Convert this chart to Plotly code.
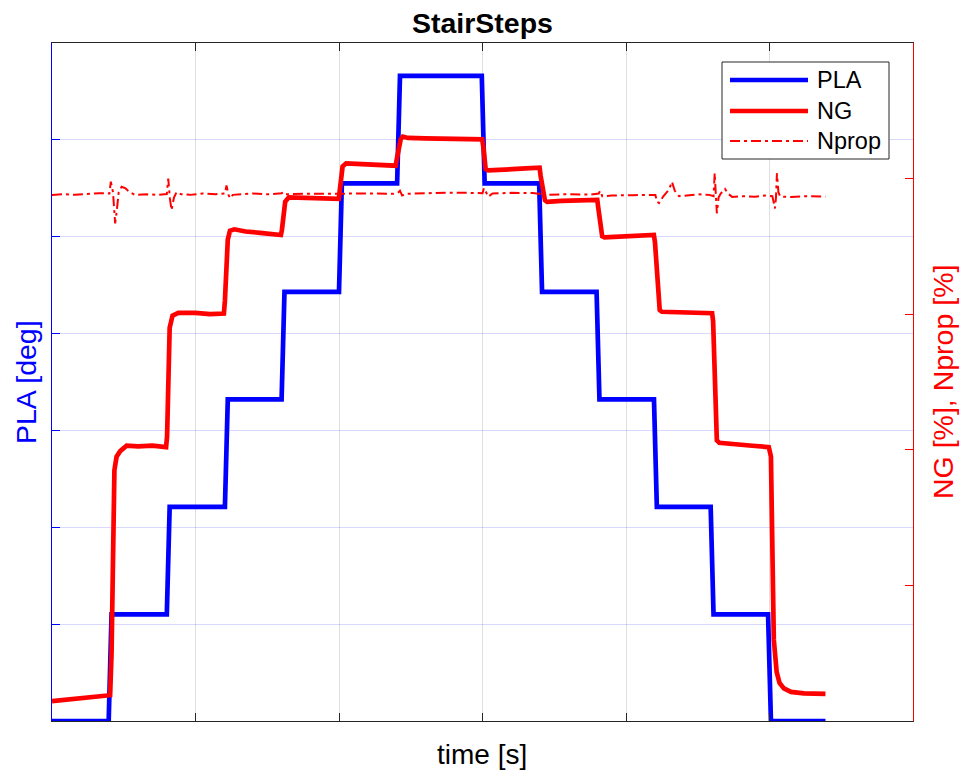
import plotly.graph_objects as go

# ---- data -------------------------------------------------------------
# Power lever angle command [deg]: step corners (time [s], value)
pla_t = [0, 39.5, 41.5, 80, 82, 120.5, 122.5, 160, 162, 200, 202, 240.5, 242.5,
         299.5, 301.5, 339.5, 341.5, 379.5, 381.5, 419.5, 421.5, 459, 461, 499, 501, 539]
pla_v = [0, 0, 1.1, 1.1, 2.21, 2.21, 3.32, 3.32, 4.43, 4.43, 5.55, 5.55, 6.66,
         6.66, 5.55, 5.55, 4.43, 4.43, 3.32, 3.32, 2.21, 2.21, 1.1, 1.1, 0, 0]

# Gas generator speed NG (right axis)
ng_t = [0, 20, 39.8, 40.5, 41.5, 43.5, 45, 47.5, 52, 60, 70, 79.5,
        80.2, 82, 84, 88, 100, 110, 119.8,
        120.5, 122.5, 124, 127, 135, 145, 159.5,
        160.2, 162.5, 165, 175, 190, 199.8,
        200.4, 202.5, 205, 215, 228, 239.5,
        240.2, 243, 244.5, 248, 260, 280, 299.8,
        300.5, 302.2, 304, 315, 330, 339.8,
        340.5, 343.5, 345, 355, 370, 380,
        380.6, 383.4, 385, 400, 419.4,
        420.2, 423.5, 425, 440, 460,
        460.7, 463.3, 465, 475, 488, 499.5,
        501, 503, 505, 507, 510, 515, 524, 539]
ng_v = [0.147, 0.165, 0.184, 0.19, 0.5, 1.85, 1.95, 1.99, 2.03, 2.025, 2.03, 2.02,
        2.1, 2.9, 2.99, 3.01, 3.01, 3.0, 3.005,
        3.1, 3.55, 3.615, 3.626, 3.61, 3.6, 3.584,
        3.62, 3.83, 3.862, 3.86, 3.855, 3.85,
        3.9, 4.09, 4.113, 4.108, 4.1, 4.095,
        4.14, 4.29, 4.31, 4.3, 4.297, 4.295, 4.29,
        4.24, 4.07, 4.06, 4.07, 4.075, 4.08,
        4.02, 3.84, 3.828, 3.835, 3.84, 3.842,
        3.79, 3.575, 3.567, 3.575, 3.584,
        3.53, 3.03, 3.018, 3.012, 3.007,
        2.95, 2.07, 2.052, 2.04, 2.03, 2.02,
        1.95, 0.6, 0.36, 0.28, 0.24, 0.215, 0.204, 0.2]

# Propeller speed Nprop (right axis)
nprop_t = [0, 8, 16, 25, 33, 40,
           41, 42.5, 44, 45, 46.5, 48.5, 51, 54, 58, 66, 74, 80,
           81, 82.2, 83.3, 85, 86.8, 90, 96, 105, 114, 120.5,
           121.6, 123, 124, 126, 131, 140, 150, 160, 161.5, 163, 175, 190, 200, 210, 225, 238,
           241.5, 242.5, 244, 247, 260, 275, 290, 300,
           301, 302.5, 304, 307, 320, 335, 341, 342.5, 344, 360, 375, 381, 382, 383.5,
           390, 405, 415, 420.5,
           421.5, 423, 426, 430, 432, 434, 437, 442, 450, 458, 461,
           461.8, 462.6, 463.3, 464.5, 466, 469, 471, 474, 480, 490, 497, 502,
           503.8, 504.5, 505.2, 506.2, 507.5, 515, 525, 539]
nprop_v = [3.879, 3.885, 3.88, 3.888, 3.892, 3.89,
           3.977, 3.9, 3.67, 3.75, 3.9, 3.94, 3.93, 3.9, 3.879, 3.884, 3.88, 3.886,
           4.0, 3.85, 3.768, 3.86, 3.9, 3.885, 3.88, 3.89, 3.885, 3.89,
           3.95, 3.88, 3.855, 3.88, 3.885, 3.89, 3.884, 3.892, 3.9, 3.884, 3.888, 3.89, 3.887, 3.892, 3.89, 3.888,
           3.9, 3.91, 3.875, 3.888, 3.893, 3.896, 3.895, 3.892,
           3.93, 3.9, 3.867, 3.89, 3.895, 3.893, 3.885, 3.9, 3.88, 3.885, 3.882, 3.89, 3.91, 3.87,
           3.875, 3.878, 3.876, 3.879,
           3.83, 3.82, 3.87, 3.92, 3.977, 3.91, 3.87, 3.875, 3.884, 3.88, 3.87,
           4.04, 3.9, 3.744, 3.86, 3.89, 3.924, 3.89, 3.865, 3.87, 3.867, 3.875, 3.87,
           3.78, 3.86, 4.04, 3.9, 3.867, 3.865, 3.87, 3.867]

series_names = ["PLA", "NG", "Nprop"]

# ---- styling ----------------------------------------------------------
W, H = 966, 772
ML, MR, MT, MB = 52, 53, 43, 51
FONT = "Liberation Sans, Arial, Helvetica, sans-serif"
BLUE, RED, DARK = "#0000FF", "#FF0000", "#262626"
DASHDOT = "10px,4px,3px,4px"


def px_x(p):
    return (p - ML) / (W - ML - MR)


def px_y(p):
    return (H - MB - p) / (H - MT - MB)


fig = go.Figure()
fig.add_trace(go.Scatter(x=pla_t, y=pla_v, mode="lines", name=series_names[0],
                         line=dict(color=BLUE, width=4.7), yaxis="y", showlegend=False))
fig.add_trace(go.Scatter(x=ng_t, y=ng_v, mode="lines", name=series_names[1],
                         line=dict(color=RED, width=4.7), yaxis="y2", showlegend=False))
fig.add_trace(go.Scatter(x=nprop_t, y=nprop_v, mode="lines", name=series_names[2],
                         line=dict(color=RED, width=2, dash=DASHDOT), yaxis="y2",
                         showlegend=False))

fig.update_layout(
    width=W, height=H,
    margin=dict(l=ML, r=MR, t=MT, b=MB),
    paper_bgcolor="white", plot_bgcolor="white",
    font=dict(family=FONT, color="black"),
    title=dict(text="<b>StairSteps</b>", x=0.5, xref="paper", xanchor="center",
               y=1 - 23 / H, yref="container", yanchor="middle",
               font=dict(size=28.5, color="black", family=FONT)),
    xaxis=dict(range=[0, 600], tick0=0, dtick=100, showticklabels=False,
               ticks="inside", ticklen=8, tickcolor=DARK, tickwidth=1,
               showline=True, linecolor=DARK, linewidth=1, mirror="ticks",
               showgrid=True, gridcolor="rgba(38,38,38,0.15)", gridwidth=1,
               zeroline=False),
    yaxis=dict(range=[0, 7], tick0=0, dtick=1, showticklabels=False,
               ticks="inside", ticklen=8, tickcolor=BLUE, tickwidth=1,
               showline=True, linecolor=BLUE, linewidth=1,
               showgrid=True, gridcolor="rgba(0,0,255,0.15)", gridwidth=1,
               zeroline=False),
    yaxis2=dict(range=[0, 5], tick0=0, dtick=1, showticklabels=False,
                overlaying="y", side="right",
                ticks="inside", ticklen=8, tickcolor=RED, tickwidth=1,
                showline=True, linecolor=RED, linewidth=1,
                showgrid=False, zeroline=False),
    showlegend=False,
)

# axis labels
annotations = [
    dict(text="time [s]", x=px_x(481.5), y=px_y(754), xref="paper", yref="paper",
         xanchor="center", yanchor="middle", showarrow=False,
         font=dict(size=28, color="black", family=FONT)),
    dict(text="PLA [deg]", x=px_x(26), y=0.5, xref="paper", yref="paper",
         xanchor="center", yanchor="middle", textangle=-90, showarrow=False,
         font=dict(size=28.5, color=BLUE, family=FONT)),
    dict(text="NG [%], Nprop [%]", x=px_x(943), y=0.5, xref="paper", yref="paper",
         xanchor="center", yanchor="middle", textangle=-90, showarrow=False,
         font=dict(size=28.5, color=RED, family=FONT)),
]

# legend box drawn in figure space
shapes = [dict(type="rect", xref="paper", yref="paper",
               x0=px_x(722), x1=px_x(889), y0=px_y(159), y1=px_y(62),
               fillcolor="white", line=dict(color=DARK, width=1), layer="above")]
legend_rows = [(series_names[0], BLUE, 4.7, "solid", 80),
               (series_names[1], RED, 4.7, "solid", 111),
               (series_names[2], RED, 2, DASHDOT, 141)]
for name, color, width, dash, ypix in legend_rows:
    shapes.append(dict(type="line", xref="paper", yref="paper",
                       x0=px_x(730), x1=px_x(808), y0=px_y(ypix), y1=px_y(ypix),
                       line=dict(color=color, width=width, dash=dash), layer="above"))
    annotations.append(dict(text=name, x=px_x(815), y=px_y(ypix), xref="paper", yref="paper",
                            xanchor="left", yanchor="middle", showarrow=False,
                            font=dict(size=23.5, color="black", family=FONT)))

fig.update_layout(shapes=shapes, annotations=annotations)

fig.write_html("out.html")
